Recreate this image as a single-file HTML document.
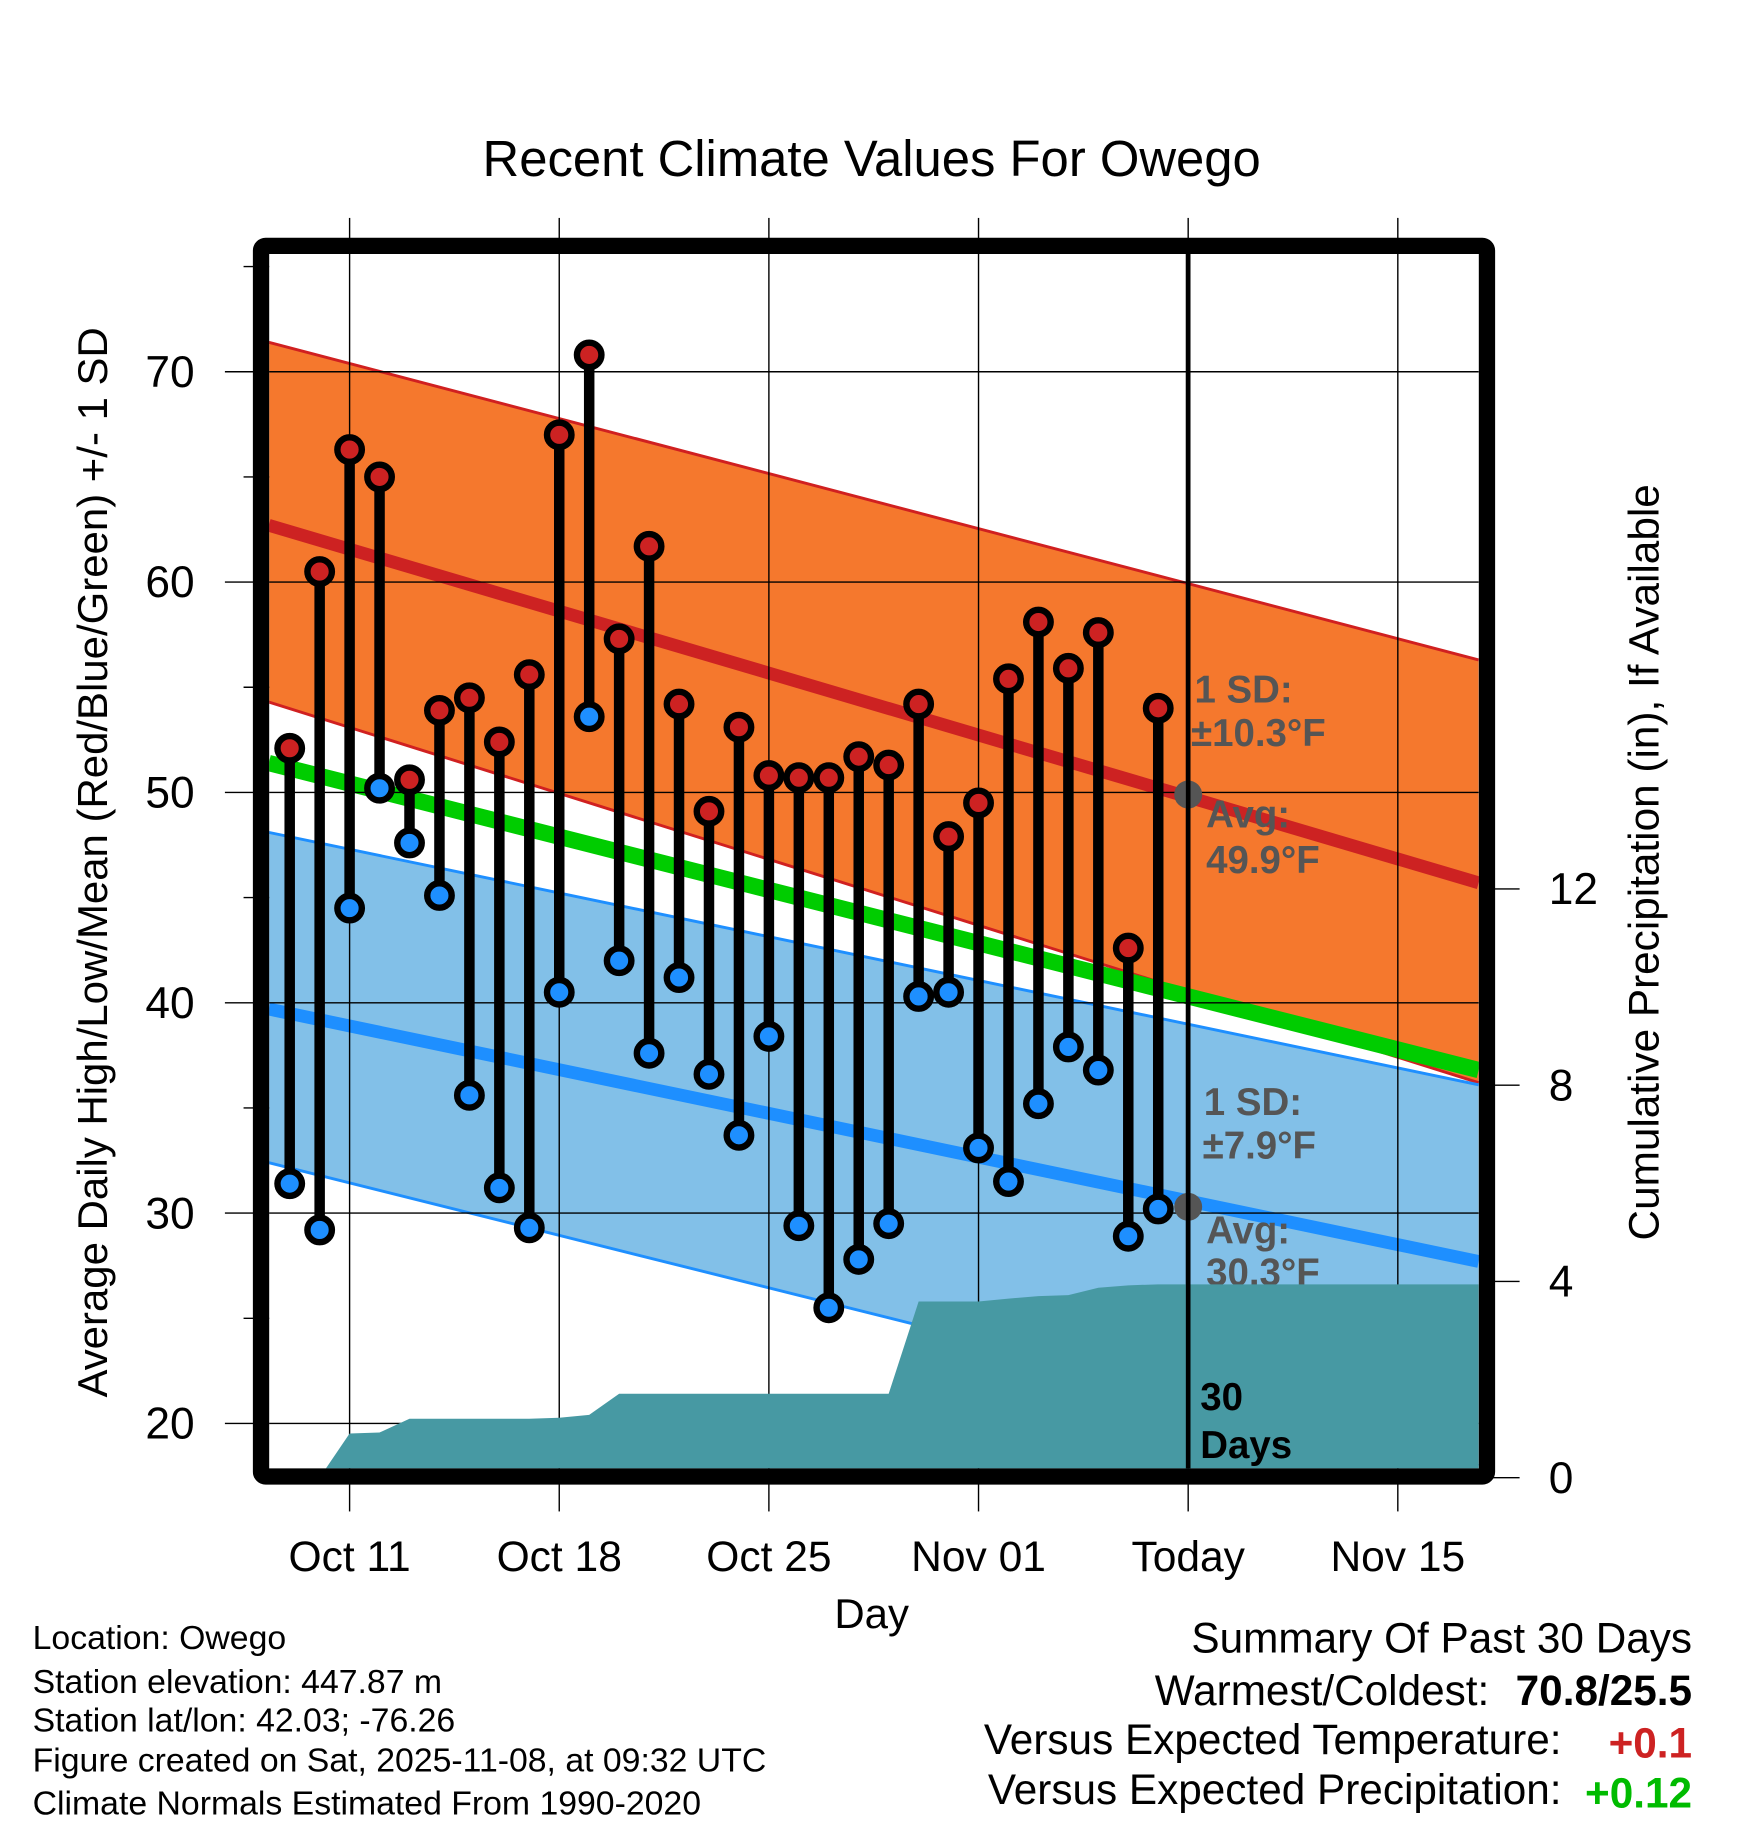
<!DOCTYPE html>
<html><head><meta charset="utf-8"><style>
html,body{margin:0;padding:0;background:#fff;}
svg{display:block;font-family:"Liberation Sans",sans-serif;}
</style></head><body>
<svg id="chart" width="1748" height="1828" viewBox="0 0 1500 1568.65" xmlns="http://www.w3.org/2000/svg"></svg>
<script>
const dayLabels = ["Oct 11","Oct 18","Oct 25","Nov 01","Today","Nov 15"];
const dayTicks = [0,7,14,21,28,35];
const yTicks = [20,30,40,50,60,70];
const yMinor = [25,35,45,55,65,75];
const pTicks = [0,4,8,12];
const obsDays = [-2,-1,0,1,2,3,4,5,6,7,8,9,10,11,12,13,14,15,16,17,18,19,20,21,22,23,24,25,26,27];
const highs = [52.1,60.5,66.3,65.0,50.6,53.9,54.5,52.4,55.6,67.0,70.8,57.3,61.7,54.2,49.1,53.1,50.8,50.7,50.7,51.7,51.3,54.2,47.9,49.5,55.4,58.1,55.9,57.6,42.6,54.0];
const lows = [31.4,29.2,44.5,50.2,47.6,45.1,35.6,31.2,29.3,40.5,53.6,42.0,37.6,41.2,36.6,33.7,38.4,29.4,25.5,27.8,29.5,40.3,40.5,33.1,31.5,35.2,37.9,36.8,28.9,30.2];
const precipDays = [-1,0,1,2,3,4,5,6,7,8,9,10,11,12,13,14,15,16,17,18,19,20,21,22,23,24,25,26,27,37.7];
const precip = [0,0.9,0.92,1.2,1.2,1.2,1.2,1.2,1.22,1.28,1.71,1.71,1.71,1.71,1.71,1.71,1.71,1.71,1.71,1.71,3.59,3.59,3.59,3.65,3.7,3.72,3.87,3.92,3.94,3.94];
const bandEnds = [-2.7,37.7];
const highUpper = [71.4,56.3];
const highAvg = [62.7,45.7];
const highLower = [54.3,36.2];
const lowUpper = [48.1,36.1];
const lowAvg = [39.7,27.7];
const lowLower = [32.4,18.0];
const meanLine = [51.4,36.8];
const todayDay = 28, todayHigh = 49.9, todayLow = 30.3;

const NS="http://www.w3.org/2000/svg";
const svg=document.getElementById('chart');
const L=231,R=1269,T=218,B=1260;
const X=d=>300+d*25.7;
const Y=v=>319+(70-v)*18.05;
const P=p=>1268-p*42.1;
function mk(tag,attrs,parent){const e=document.createElementNS(NS,tag);for(const k in attrs)e.setAttribute(k,attrs[k]);(parent||svg).appendChild(e);return e;}
function txt(s,attrs,parent){const e=mk('text',attrs,parent);e.textContent=s;return e;}

const defs=mk('defs',{});
const cp=mk('clipPath',{id:'plotclip'},defs);
mk('rect',{x:L,y:T,width:R-L,height:B-T},cp);
const g=mk('g',{'clip-path':'url(#plotclip)'});



function band(up,lo,fill,stroke,name){
  const pts=[[X(bandEnds[0]),Y(up[0])],[X(bandEnds[1]),Y(up[1])],[X(bandEnds[1]),Y(lo[1])],[X(bandEnds[0]),Y(lo[0])]];
  const e=mk('polygon',{points:pts.map(p=>p.join(',')).join(' '),fill:fill},g);
  
  
  mk('line',{x1:X(bandEnds[0]),y1:Y(up[0]),x2:X(bandEnds[1]),y2:Y(up[1]),stroke:stroke,'stroke-width':2.5},g);
  mk('line',{x1:X(bandEnds[0]),y1:Y(lo[0]),x2:X(bandEnds[1]),y2:Y(lo[1]),stroke:stroke,'stroke-width':2.5},g);
}
function line(v,stroke,w,name){
  const e=mk('line',{x1:X(bandEnds[0]),y1:Y(v[0]),x2:X(bandEnds[1]),y2:Y(v[1]),stroke:stroke,'stroke-width':w},g);
  
  
}
band(highUpper,highLower,'#f5782d','#d02020','high-sd-band');
band(lowUpper,lowLower,'#82c0e8','#1e8fff','low-sd-band');
line(meanLine,'#00cc00',14,'mean-normal-line');
line(highAvg,'#cd2222',11,'high-normal-line');
line(lowAvg,'#1e8fff',11,'low-normal-line');

yTicks.forEach(v=>mk('line',{x1:L,y1:Y(v),x2:R,y2:Y(v),stroke:'#000','stroke-width':1.2},g));
dayTicks.forEach(d=>mk('line',{x1:X(d),y1:T,x2:X(d),y2:B,stroke:'#000','stroke-width':1.2},g));

obsDays.forEach((d,i)=>{
  const s=mk('line',{x1:X(d),y1:Y(highs[i]),x2:X(d),y2:Y(lows[i]),stroke:'#000','stroke-width':9},g);
  
  
});
obsDays.forEach((d,i)=>{
  const h=mk('circle',{cx:X(d),cy:Y(highs[i]),r:10.5,fill:'#cd2222',stroke:'#000','stroke-width':5.5},g);
  
  
  const l=mk('circle',{cx:X(d),cy:Y(lows[i]),r:10.5,fill:'#1e8fff',stroke:'#000','stroke-width':5.5},g);
  
  
});

const tl=mk('line',{x1:X(todayDay),y1:T,x2:X(todayDay),y2:B,stroke:'#000','stroke-width':4},g);


mk('circle',{cx:X(todayDay),cy:Y(todayHigh),r:12,fill:'#555'},g);
mk('circle',{cx:X(todayDay),cy:Y(todayLow),r:12,fill:'#555'},g);

const ann=[["1 SD:",1025,603],["\u00b110.3\u00b0F",1022,640],["Avg:",1035,710],["49.9\u00b0F",1035,749],["1 SD:",1033,957],["\u00b17.9\u00b0F",1032,994],["Avg:",1035,1067],["30.3\u00b0F",1035,1103]];
ann.forEach(a=>{const t=txt(a[0],{x:a[1],y:a[2],'font-size':33,'font-weight':'bold',fill:'#555'},g);
  
  });

let pp=precipDays.map((d,i)=>X(d)+','+P(precip[i]));
pp.push(X(precipDays[precipDays.length-1])+','+(B+10));
pp.push(X(precipDays[0])+','+(B+10));
const pa=mk('polygon',{points:pp.join(' '),fill:'#4799a3'},g);


mk('line',{x1:X(todayDay),y1:T,x2:X(todayDay),y2:B,stroke:'#000','stroke-width':4},g);
txt("30",{x:1030,y:1210,'font-size':33,'font-weight':'bold',fill:'#000'},g);
txt("Days",{x:1030,y:1251,'font-size':33,'font-weight':'bold',fill:'#000'},g);

const fr=mk('rect',{x:224,y:211,width:1052,height:1056,fill:'none',stroke:'#000','stroke-width':14,rx:4});



yTicks.forEach(v=>{
  mk('line',{x1:193,y1:Y(v),x2:L,y2:Y(v),stroke:'#000','stroke-width':1.2});
  const t=txt(String(v),{x:167,y:Y(v)+13,'font-size':38,'text-anchor':'end'});
  
  
});
yMinor.forEach(v=>mk('line',{x1:209,y1:Y(v),x2:L,y2:Y(v),stroke:'#000','stroke-width':1.2}));
dayTicks.forEach((d,i)=>{
  mk('line',{x1:X(d),y1:187,x2:X(d),y2:T,stroke:'#000','stroke-width':1.2});
  mk('line',{x1:X(d),y1:B,x2:X(d),y2:1297,stroke:'#000','stroke-width':1.2});
  const t=txt(dayLabels[i],{x:X(d),y:1348,'font-size':36.5,'text-anchor':'middle'});
  
  
});
pTicks.forEach(p=>{
  mk('line',{x1:1276,y1:P(p),x2:1304,y2:P(p),stroke:'#000','stroke-width':1.2});
  const t=txt(String(p),{x:1329,y:P(p)+13,'font-size':38});
  
  
});
</script>
<svg style="position:absolute;left:0;top:0" width="1748" height="1828" viewBox="0 0 1500 1568.65" xmlns="http://www.w3.org/2000/svg" font-family="Liberation Sans, sans-serif">
<text x="748" y="151" font-size="43.6" text-anchor="middle">Recent Climate Values For Owego</text>
<text transform="translate(92,740) rotate(-90)" font-size="36" text-anchor="middle">Average Daily High/Low/Mean (Red/Blue/Green) +/- 1 SD</text>
<text transform="translate(1423,740) rotate(-90)" font-size="36.3" text-anchor="middle">Cumulative Precipitation (in), If Available</text>
<text x="748" y="1397" font-size="36" text-anchor="middle">Day</text>
<g font-size="29">
<text x="28" y="1415">Location: Owego</text>
<text x="28" y="1453">Station elevation: 447.87 m</text>
<text x="28" y="1486">Station lat/lon: 42.03; -76.26</text>
<text x="28" y="1520">Figure created on Sat, 2025-11-08, at 09:32 UTC</text>
<text x="28" y="1557">Climate Normals Estimated From 1990-2020</text>
</g>
<g font-size="36.3">
<text x="1452" y="1418" text-anchor="end">Summary Of Past 30 Days</text>
<text x="1278" y="1463" text-anchor="end">Warmest/Coldest:</text>
<text x="1452" y="1463" text-anchor="end" font-weight="bold">70.8/25.5</text>
<text x="1340" y="1505" text-anchor="end">Versus Expected Temperature:</text>
<text x="1452" y="1508" text-anchor="end" font-weight="bold" fill="#cd2222">+0.1</text>
<text x="1340" y="1548" text-anchor="end">Versus Expected Precipitation:</text>
<text x="1452" y="1551" text-anchor="end" font-weight="bold" fill="#00bb00">+0.12</text>
</g>
</svg>
</body></html>
